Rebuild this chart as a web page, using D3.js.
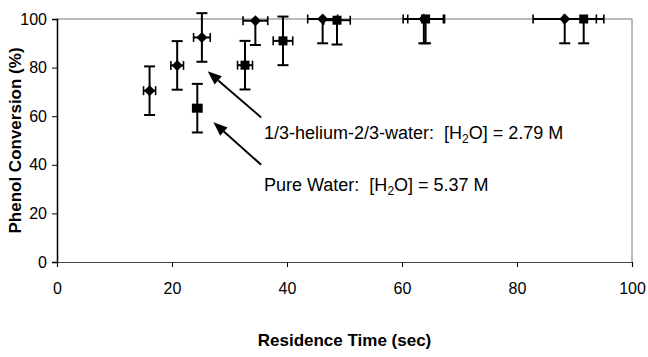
<!DOCTYPE html>
<html>
<head>
<meta charset="utf-8">
<script src="https://cdn.jsdelivr.net/npm/d3@7"></script>
<style>
body { margin: 0; background: #fff; }
text { font-family: Arial, "Liberation Sans", sans-serif; white-space: pre; }
</style>
</head>
<body>
<div id="chart"></div>
<script>
// 1/3-helium-2/3-water (diamonds)
var heliumTime = [16.1, 20.9, 25.2, 34.5, 46.2, 63.8, 88.3];
var heliumConv = [70.5, 80.9, 92.4, 99.3, 100, 100, 100];
var heliumTimeErr = [1.05, 1.1, 1.45, 2.15, 2.6, 3.6, 5.5];
var heliumConvErrMinus = [10, 10, 10, 10, 10, 10, 10];
var heliumConvErrPlus = [10, 10, 10, 0, 0, 0, 0];

// pure water (squares)
var waterTime = [24.4, 32.7, 39.3, 48.7, 64.1, 91.6];
var waterConv = [63.3, 81, 91, 99.5, 100, 100];
var waterTimeErr = [0.8, 1.3, 1.7, 2.3, 3.1, 3.5];
var waterConvErrMinus = [10, 10, 10, 10, 10, 10];
var waterConvErrPlus = [10, 10, 10, 0, 0, 0];

var xTicks = [0, 20, 40, 60, 80, 100];
var yTicks = [0, 20, 40, 60, 80, 100];

// annotation arrows [tailX, tailY, tipX, tipY] in data units
var arrowHelium = [35.5, 59.5, 26.2, 78.5];
var arrowWater = [35.5, 40, 27.2, 57.5];
var labelHelium = ["1/3-helium-2/3-water:  [H", "2", "O] = 2.79 M"];
var labelWater = ["Pure Water:  [H", "2", "O] = 5.37 M"];
var labelHeliumPos = [36, 50.6];
var labelWaterPos = [36, 29.2];

var width = 648, height = 357;
var pLeft = 57, pRight = 632, pTop = 19, pBottom = 262;

var svg = d3.select("#chart").append("svg").attr("width", width).attr("height", height);

var x = d3.scaleLinear().domain([0, 100]).range([pLeft, pRight]);
var y = d3.scaleLinear().domain([0, 100]).range([pBottom, pTop]);

// plot area border (top / right)
svg.append("line").attr("x1", pLeft).attr("x2", pRight).attr("y1", pTop).attr("y2", pTop)
	.attr("stroke", "#777").attr("stroke-width", 1);
svg.append("line").attr("x1", pRight).attr("x2", pRight).attr("y1", pTop).attr("y2", pBottom)
	.attr("stroke", "#777").attr("stroke-width", 1);

// x axis
var xAxis = svg.append("g").attr("transform", "translate(0," + pBottom + ")")
	.call(d3.axisBottom(x).tickValues(xTicks).tickSize(5).tickPadding(16));
xAxis.select(".domain").attr("stroke", "#444").attr("stroke-width", 1.2);
xAxis.selectAll(".tick line").attr("stroke", "#000");
xAxis.selectAll("text").attr("font-size", 16).attr("font-family", "Arial, 'Liberation Sans', sans-serif").attr("fill", "#000");

// y axis
var yAxis = svg.append("g").attr("transform", "translate(" + pLeft + ",0)")
	.call(d3.axisLeft(y).tickValues(yTicks).tickSize(5).tickPadding(5));
yAxis.select(".domain").attr("stroke", "#000").attr("stroke-width", 1.5);
yAxis.selectAll(".tick line").attr("stroke", "#000");
yAxis.selectAll("text").attr("font-size", 16).attr("font-family", "Arial, 'Liberation Sans', sans-serif").attr("fill", "#000");

// axis titles
svg.append("text").attr("x", (pLeft + pRight) / 2).attr("y", 346)
	.attr("text-anchor", "middle").attr("font-size", 17).attr("font-weight", "bold")
	.text("Residence Time (sec)");
svg.append("text").attr("transform", "translate(21," + ((pTop + pBottom) / 2) + ") rotate(-90)")
	.attr("text-anchor", "middle").attr("font-size", 17).attr("font-weight", "bold")
	.text("Phenol Conversion (%)");

function drawSeries(xs, ys, xe, yeMinus, yePlus, shape) {
	var g = svg.append("g");
	var capW = 5.5, capH = 4.5;
	xs.forEach(function(d, i) {
		var cx = x(d), cy = y(ys[i]);
		var y1 = y(ys[i] - yeMinus[i]), y2 = y(ys[i] + yePlus[i]);
		g.append("line").attr("x1", cx).attr("x2", cx).attr("y1", y1).attr("y2", y2)
			.attr("stroke", "#000").attr("stroke-width", 2);
		g.append("line").attr("x1", cx - capW).attr("x2", cx + capW).attr("y1", y1).attr("y2", y1)
			.attr("stroke", "#000").attr("stroke-width", 2);
		if (yePlus[i] > 0) {
			g.append("line").attr("x1", cx - capW).attr("x2", cx + capW).attr("y1", y2).attr("y2", y2)
				.attr("stroke", "#000").attr("stroke-width", 2);
		}
		var xa = x(d - xe[i]), xb = x(d + xe[i]);
		g.append("line").attr("x1", xa).attr("x2", xb).attr("y1", cy).attr("y2", cy)
			.attr("stroke", "#000").attr("stroke-width", 2);
		[xa, xb].forEach(function(xx) {
			g.append("line").attr("x1", xx).attr("x2", xx).attr("y1", cy - capH).attr("y2", cy + capH)
				.attr("stroke", "#000").attr("stroke-width", 1.6);
		});
	});
	g.selectAll("path.m")
		.data(xs)
		.enter().append("path")
			.attr("class", "m")
			.attr("transform", function(d, i) { return "translate(" + x(d) + "," + y(ys[i]) + ")"; })
			.attr("d", shape === "diamond"
				? "M0,-5.5L5.5,0L0,5.5L-5.5,0Z"
				: "M-4.5,-4.5L4.5,-4.5L4.5,4.5L-4.5,4.5Z")
			.attr("fill", "#000");
}

drawSeries(heliumTime, heliumConv, heliumTimeErr, heliumConvErrMinus, heliumConvErrPlus, "diamond");
drawSeries(waterTime, waterConv, waterTimeErr, waterConvErrMinus, waterConvErrPlus, "square");

// arrows
function drawArrow(a) {
	var x1 = x(a[0]), y1 = y(a[1]), x2 = x(a[2]), y2 = y(a[3]);
	var ang = Math.atan2(y2 - y1, x2 - x1);
	var len = 14, half = 5.5;
	var bx = x2 - len * Math.cos(ang), by = y2 - len * Math.sin(ang);
	svg.append("line").attr("x1", x1).attr("y1", y1).attr("x2", bx).attr("y2", by)
		.attr("stroke", "#000").attr("stroke-width", 2);
	var px = -Math.sin(ang) * half, py = Math.cos(ang) * half;
	svg.append("path")
		.attr("d", "M" + x2 + "," + y2 + "L" + (bx + px) + "," + (by + py) + "L" + (bx - px) + "," + (by - py) + "Z")
		.attr("fill", "#000");
}
drawArrow(arrowHelium);
drawArrow(arrowWater);

function drawLabel(parts, pos) {
	var t = svg.append("text").attr("x", x(pos[0])).attr("y", y(pos[1])).attr("font-size", 18);
	t.append("tspan").text(parts[0]);
	t.append("tspan").attr("font-size", 12).attr("dy", 4).text(parts[1]);
	t.append("tspan").attr("dy", -4).text(parts[2]);
}
drawLabel(labelHelium, labelHeliumPos);
drawLabel(labelWater, labelWaterPos);
</script>
</body>
</html>
